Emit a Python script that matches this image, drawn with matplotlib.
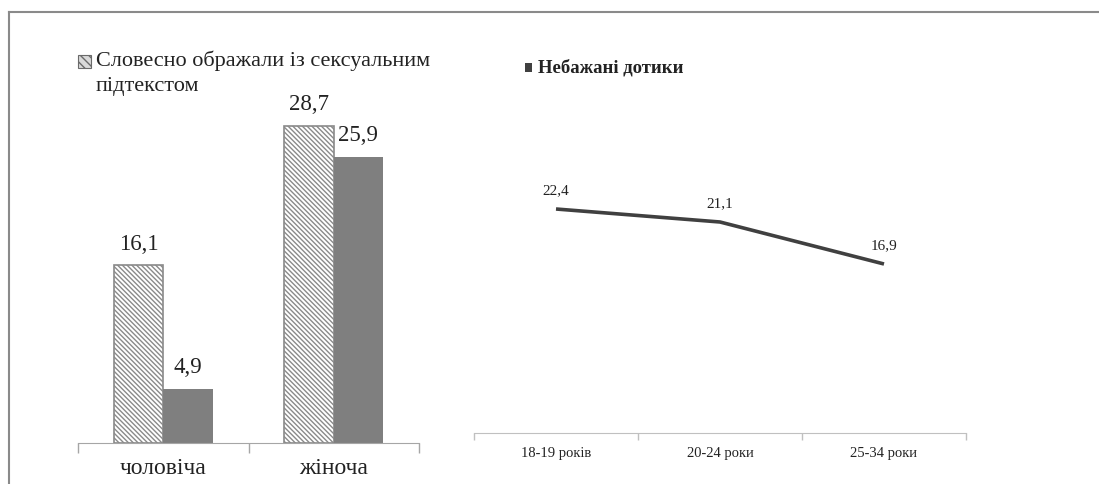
import matplotlib
matplotlib.use("Agg")
import matplotlib.pyplot as plt
from matplotlib.patches import Rectangle
from matplotlib.lines import Line2D

plt.rcParams['font.family'] = ['Liberation Serif', 'DejaVu Serif']
plt.rcParams['hatch.linewidth'] = 1.0

# left chart: by sex
sexes = ['чоловіча', 'жіноча']
verbal = [16.1, 28.7]
touch = [4.9, 25.9]
verbal_name = ['Словесно ображали із сексуальним', 'підтекстом']

# right chart: by age
ages = ['18-19 років', '20-24 роки', '25-34 роки']
touch_age = [22.4, 21.1, 16.9]
touch_name = 'Небажані дотики'

W, H = 1099, 484
fig = plt.figure(figsize=(W / 100, H / 100), dpi=100)
fig.patch.set_facecolor('white')

def fx(px):
    return px / W

def fy(py):
    return 1 - py / H

axis_col = '#a6a6a6'
bar_dark = '#7f7f7f'
hatch = '\\' * 7

# ---- left bars
ax1 = fig.add_axes([fx(78), fy(443), fx(419) - fx(78), fy(45) - fy(443)])
xs = list(range(len(sexes)))
bw = 0.29
b1 = ax1.bar([x - bw / 2 for x in xs], verbal, bw, facecolor='white',
             edgecolor='#8a8a8a', hatch=hatch, linewidth=1.2)
b2 = ax1.bar([x + bw / 2 for x in xs], touch, bw, color=bar_dark, linewidth=0)
for bars in (b1, b2):
    for r in bars:
        ax1.annotate(f'{r.get_height():.1f}'.replace('.', ','),
                     (r.get_x() + r.get_width() / 2, r.get_height()),
                     xytext=(0, 15), textcoords='offset points',
                     ha='center', va='center', fontsize=16.5, color='#222222')
ax1.set_xlim(-0.5, len(sexes) - 0.5)
ax1.set_ylim(0, 36)
ax1.set_xticks(xs, sexes, fontsize=17, color='#222222')
ax1.tick_params(axis='x', which='major', length=0, pad=11)
ax1.set_xticks([i - 0.5 for i in range(len(sexes) + 1)], minor=True)
ax1.tick_params(axis='x', which='minor', length=7, color=axis_col, width=1)
ax1.set_yticks([])
for s in ['top', 'right', 'left']:
    ax1.spines[s].set_visible(False)
ax1.spines['bottom'].set_color(axis_col)
ax1.patch.set_alpha(0)

# legend of left chart (two lines)
fig.add_artist(Rectangle((fx(78), fy(68)), fx(91) - fx(78), fy(55) - fy(68),
                         transform=fig.transFigure, facecolor='#d9d9d9',
                         edgecolor='#6a6a6a', hatch='\\' * 4, linewidth=0.8))
for i, line in enumerate(verbal_name):
    fig.text(fx(96), fy(61 + 26 * i), line, fontsize=16, va='center',
             ha='left', color='#222222')

# ---- right line
ax2 = fig.add_axes([fx(474), fy(433), fx(966) - fx(474), fy(53) - fy(433)])
xa = list(range(len(ages)))
ax2.plot(xa, touch_age, color='#404040', linewidth=2.6, solid_capstyle='butt')
for x, v in zip(xa, touch_age):
    ax2.annotate(f'{v:.1f}'.replace('.', ','), (x, v), xytext=(0, 13.5),
                 textcoords='offset points', ha='center', va='center',
                 fontsize=11, color='#222222')
ax2.set_xlim(-0.5, len(ages) - 0.5)
ax2.set_ylim(0, 38)
ax2.set_xticks(xa, ages, fontsize=10.5, color='#222222')
ax2.tick_params(axis='x', which='major', length=0, pad=10)
ax2.set_xticks([i - 0.5 for i in range(len(ages) + 1)], minor=True)
ax2.tick_params(axis='x', which='minor', length=5, color='#c0c0c0', width=1)
ax2.set_yticks([])
for s in ['top', 'right', 'left']:
    ax2.spines[s].set_visible(False)
ax2.spines['bottom'].set_color('#c0c0c0')
ax2.patch.set_alpha(0)

fig.add_artist(Rectangle((fx(525), fy(72)), fx(532) - fx(525), fy(63) - fy(72),
                         transform=fig.transFigure, facecolor='#404040',
                         edgecolor='none'))
fig.text(fx(538), fy(68), touch_name, fontsize=13.5, fontweight='bold',
         va='center', ha='left', color='#222222')

# outer frame (top and left edges visible)
fig.add_artist(Line2D([fx(9), 1], [fy(12), fy(12)], color='#8a8a8a', lw=1.5))
fig.add_artist(Line2D([fx(9), fx(9)], [fy(12), 0], color='#8a8a8a', lw=1.5))

fig.savefig('out.png', dpi=100)
